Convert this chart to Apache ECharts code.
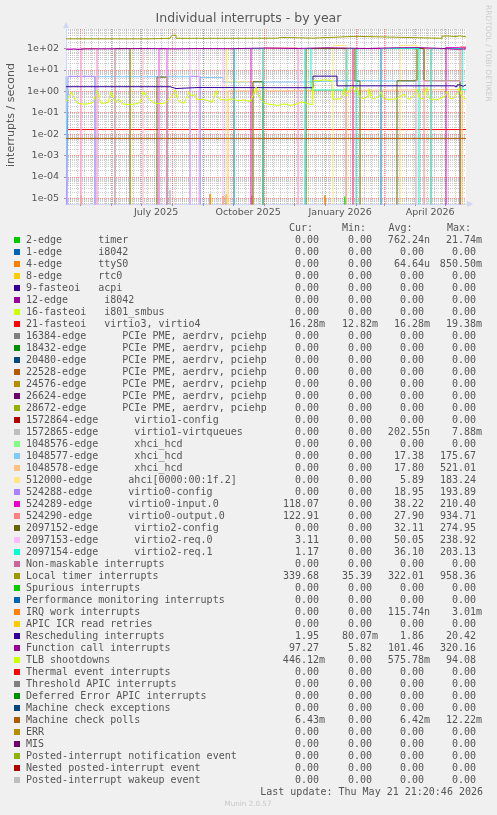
<!DOCTYPE html>
<html><head><meta charset="utf-8">
<script src="https://cdn.jsdelivr.net/npm/echarts@6/dist/echarts.min.js"></script>
<style>html,body{margin:0;padding:0;background:#F0F0F0}#c{width:497px;height:815px}</style>
</head><body><div id="c"></div>
<script>
// ---- time frame (last update Thu May 21 21:20:46 2026, 400 days shown) ----
const START = Date.UTC(2025, 3, 16, 21, 20, 46);
const END = Date.UTC(2026, 4, 21, 21, 20, 46);
const DAY = 86400000;

// ---- y axis (log) ----
const yMin = 5.42e-6;
const yMax = 815;
const yMajorTicks = [1e-5, 1e-4, 1e-3, 1e-2, 1e-1, 1e0, 1e1, 1e2];
const yMinorTicks = [];
for (let e = -6; e <= 2; e++) for (let m = 2; m <= 9; m++) yMinorTicks.push(m * Math.pow(10, e));

// ---- x axis ticks ----
const monthStarts = ['2025-05-01','2025-06-01','2025-07-01','2025-08-01','2025-09-01','2025-10-01','2025-11-01','2025-12-01','2026-01-01','2026-02-01','2026-03-01','2026-04-01','2026-05-01'];
const labelDates = ['2025-07-16','2025-10-16','2026-01-16','2026-04-16'];
const monthNames = ['January','February','March','April','May','June','July','August','September','October','November','December'];

// ---- legend ----
const legendNames = [
 '2-edge      timer','1-edge      i8042','4-edge      ttyS0','8-edge      rtc0','9-fasteoi   acpi',
 '12-edge      i8042','16-fasteoi   i801_smbus','21-fasteoi   virtio3, virtio4',
 '16384-edge      PCIe PME, aerdrv, pciehp','18432-edge      PCIe PME, aerdrv, pciehp','20480-edge      PCIe PME, aerdrv, pciehp',
 '22528-edge      PCIe PME, aerdrv, pciehp','24576-edge      PCIe PME, aerdrv, pciehp','26624-edge      PCIe PME, aerdrv, pciehp',
 '28672-edge      PCIe PME, aerdrv, pciehp','1572864-edge      virtio1-config','1572865-edge      virtio1-virtqueues',
 '1048576-edge      xhci_hcd','1048577-edge      xhci_hcd','1048578-edge      xhci_hcd','512000-edge      ahci[0000:00:1f.2]',
 '524288-edge      virtio0-config','524289-edge      virtio0-input.0','524290-edge      virtio0-output.0',
 '2097152-edge      virtio2-config','2097153-edge      virtio2-req.0','2097154-edge      virtio2-req.1',
 'Non-maskable interrupts','Local timer interrupts','Spurious interrupts','Performance monitoring interrupts',
 'IRQ work interrupts','APIC ICR read retries','Rescheduling interrupts','Function call interrupts','TLB shootdowns',
 'Thermal event interrupts','Threshold APIC interrupts','Deferred Error APIC interrupts','Machine check exceptions',
 'Machine check polls','ERR','MIS','Posted-interrupt notification event','Nested posted-interrupt event','Posted-interrupt wakeup event'
];
const colors = ['#00CC00','#0066B3','#FF8000','#FFCC00','#330099','#990099','#CCFF00','#FF0000','#808080','#008F00',
 '#00487D','#B35A00','#B38F00','#6B006B','#8FB300','#B30000','#BEBEBE','#80FF80','#80C9FF','#FFC080','#FFE680',
 '#AA80FF','#EE00CC','#FF8080','#666600','#FFBBFF','#00FFCC','#CC6699','#999900',
 '#00CC00','#0066B3','#FF8000','#FFCC00','#330099','#990099','#CCFF00','#FF0000','#808080','#008F00',
 '#00487D','#B35A00','#B38F00','#6B006B','#8FB300','#B30000','#BEBEBE'];
const curVals = ['0.00','0.00','0.00','0.00','0.00','0.00','0.00','16.28m','0.00','0.00','0.00','0.00','0.00','0.00','0.00','0.00','0.00','0.00','0.00','0.00','0.00','0.00','118.07','122.91','0.00','3.11','1.17','0.00','339.68','0.00','0.00','0.00','0.00','1.95','97.27','446.12m','0.00','0.00','0.00','0.00','6.43m','0.00','0.00','0.00','0.00','0.00'];
const minVals = ['0.00','0.00','0.00','0.00','0.00','0.00','0.00','12.82m','0.00','0.00','0.00','0.00','0.00','0.00','0.00','0.00','0.00','0.00','0.00','0.00','0.00','0.00','0.00','0.00','0.00','0.00','0.00','0.00','35.39','0.00','0.00','0.00','0.00','80.07m','5.82','0.00','0.00','0.00','0.00','0.00','0.00','0.00','0.00','0.00','0.00','0.00'];
const avgVals = ['762.24n','0.00','64.64u','0.00','0.00','0.00','0.00','16.28m','0.00','0.00','0.00','0.00','0.00','0.00','0.00','0.00','202.55n','0.00','17.38','17.80','5.89','18.95','38.22','27.90','32.11','50.05','36.10','0.00','322.01','0.00','0.00','115.74n','0.00','1.86','101.46','575.78m','0.00','0.00','0.00','0.00','6.42m','0.00','0.00','0.00','0.00','0.00'];
const maxVals = ['21.74m','0.00','850.50m','0.00','0.00','0.00','0.00','19.38m','0.00','0.00','0.00','0.00','0.00','0.00','0.00','0.00','7.88m','0.00','175.67','521.01','183.24','193.89','210.40','934.71','274.95','238.92','203.13','0.00','958.36','0.00','0.00','3.01m','0.00','20.42','320.16','94.08','0.00','0.00','0.00','0.00','12.22m','0.00','0.00','0.00','0.00','0.00'];

// ---- series values: [day since 2025-04-16, interrupts/s]; each value holds until next point ----
const ZERO = [[0, 0], [400, 0]];
const sTimer = [[0,0],[279,1.2e-5],[280,0],[400,0]];
const sTtyS0 = [[0,0],[15,1.4e-5],[16,0],[144,1.6e-5],[145,0],[157,1.3e-5],[158,0],[160,1.5e-5],[161,0],[186,1.3e-5],[187,0],[400,0]];
const sVirtio34 = [[0,0.0163],[400,0.0163]];
const sVirtio1q = [[0,0],[104,2.4e-5],[105,0],[400,0]];
const sXhci77 = [[0,5.0],[2,0],[29,4.8],[124,0],[134,4.4],[157,2.7],[239,3.2],[280,3.0],[350,0],[400,0]];
const sXhci78 = [[0,0],[162,1.05],[204,1.1],[270,1.2],[396,0],[400,0]];
const sAhci = [[0,0],[64,100],[77,0],[160,100],[162,2.8],[187,0],[267,140],[280,0],[334,140],[351,0],[400,0]];
const sV0config = [[0,0],[2,5.0],[29,0],[124,5.0],[134,0],[400,0]];
const sV0input = [[0,0],[93,100],[101,0],[168,100],[185,0],[287,100],[315,0],[380,110],[400,118]];
const sV0output = [[0,0],[15,100],[31,0],[197,105],[232,0],[280,100],[287,0],[358,100],[365,0],[394,120],[400,123]];
const sV2config = [[0,0],[49,100],[64,0],[91,4.6],[101,0],[187,2.8],[197,0],[240,100],[289,3.0],[294,0],[331,3.1],[351,100],[358,3.1],[394,0],[400,0]];
const sV2req0 = [[0,100],[15,0],[31,100],[49,0],[77,100],[93,0],[101,100],[124,0],[133,100],[157,0],[232,100],[239,0],[350,3.0],[400,3.11]];
const sV2req1 = [[0,0],[168,100],[197,0],[239,100],[245,1.15],[281,100],[290,0],[315,100],[353,0],[365,100],[396,1.17],[400,1.17]];
const sLocalTimer = [[0,283],[84,300],[104,330],[106,420],[107,470],[108,420],[110,300],[156,305],[212,330],[215,305],[247,370],[290,300],[376,380],[384,360],[389,390],[394,350],[400,340]];
const sIrqWork = [[0,0],[259,1.4e-5],[260,0],[400,0]];
const sResched = [[0,1.64],[46,1.5],[48,1.64],[104,1.4],[106,1.35],[110,1.5],[132,1.47],[247,5.1],[271,1.8],[388,1.6],[391,2.0],[394,1.7],[397,2.0],[400,1.95]];
const sFuncCall = [[0,92],[5,95],[8,90],[12,96],[20,97],[45,100],[80,96],[110,100],[130,98],[165,105],[200,100],[230,108],[262,100],[300,108],[330,110],[352,100],[378,95],[385,92],[392,96],[400,97]];
// TLB shootdowns: sampled points, joined by straight lines
const sTlb = [[0,0.33],[3,0.6],[5,0.95],[8,0.5],[11,0.28],[14,0.26],[20,0.25],[27,0.3],[31,1.1],[33,0.5],[35,0.27],[42,0.3],[45,0.95],[47,0.5],[50,0.3],[53,0.45],[56,0.26],[62,0.24],[68,0.25],[74,0.3],[77,1.0],[80,0.6],[84,0.38],[88,0.28],[95,0.26],[100,0.3],[107,0.75],[109,1.15],[111,0.5],[113,0.33],[118,0.28],[123,0.95],[125,0.6],[129,0.7],[131,0.4],[136,0.43],[141,0.38],[146,0.3],[150,1.1],[152,0.5],[155,0.42],[160,0.38],[166,0.45],[172,0.35],[177,0.4],[184,0.33],[188,0.8],[190,1.6],[192,0.7],[195,0.39],[199,0.27],[205,0.24],[212,0.22],[218,0.26],[224,0.22],[230,0.25],[235,0.32],[240,0.28],[246,0.23],[247,3.3],[252,3.1],[258,3.4],[265,3.2],[266,3.2],[267,0.42],[275,0.45],[278,1.4],[280,0.6],[284,1.3],[286,1.7],[289,0.9],[291,1.5],[293,0.6],[297,0.45],[302,0.6],[303,1.35],[305,0.5],[308,0.43],[313,0.6],[315,0.95],[317,0.5],[320,0.42],[330,0.44],[338,0.75],[340,0.5],[344,0.42],[350,0.9],[351,1.2],[353,0.5],[357,0.43],[359,1.0],[360,1.5],[362,0.6],[364,0.43],[372,0.42],[379,0.6],[381,1.0],[383,0.5],[386,0.43],[391,0.8],[393,1.4],[395,0.7],[398,0.45],[400,0.45]];
const sMcPolls = [[0,0.0063],[400,0.0063]];

const seriesData = [sTimer, ZERO, sTtyS0, ZERO, ZERO, ZERO, ZERO, sVirtio34, ZERO, ZERO, ZERO, ZERO, ZERO, ZERO, ZERO, ZERO,
 sVirtio1q, ZERO, sXhci77, sXhci78, sAhci, sV0config, sV0input, sV0output, sV2config, sV2req0, sV2req1, ZERO, sLocalTimer,
 ZERO, ZERO, sIrqWork, ZERO, sResched, sFuncCall, sTlb, ZERO, ZERO, ZERO, ZERO, sMcPolls, ZERO, ZERO, ZERO, ZERO, ZERO];

// ---- build ----
const TXT = '#555555';
const AXISC = '#CFD6F8';
const dateTs = s => Date.UTC(+s.slice(0,4), +s.slice(5,7) - 1, +s.slice(8,10));
const weekly = [];
for (let t = Date.UTC(2025, 3, 21); t < END; t += 7 * DAY) weekly.push(t);

const series = seriesData.map((arr, i) => ({
  type: 'line', name: legendNames[i], step: arr === sTlb ? false : 'end', showSymbol: false, symbol: 'none',
  clip: true, silent: true, animation: false,
  lineStyle: { width: 1, color: colors[i] }, itemStyle: { color: colors[i] },
  data: arr.map(([d, v]) => [START + d * DAY, v > 0 ? v : 1e-9])
}));

const graphic = [];
graphic.push({ type: 'text', x: 248.5, y: 19, style: { text: 'Individual interrupts - by year', fontFamily: 'DejaVu Sans', fontSize: 12.5, fill: TXT, align: 'center', verticalAlign: 'middle' } });
graphic.push({ type: 'text', x: 487.5, y: 5, rotation: -Math.PI / 2, style: { text: 'RRDTOOL / TOBI OETIKER', fontFamily: 'DejaVu Sans', fontSize: 7.5, fill: '#CCCCCC', align: 'left', verticalAlign: 'middle' } });
graphic.push({ type: 'text', x: 11, y: 115, rotation: Math.PI / 2, style: { text: 'interrupts / second', fontFamily: 'DejaVu Sans', fontSize: 11, fill: TXT, align: 'center', verticalAlign: 'middle' } });
const MONO = 'DejaVu Sans Mono';
const headers = [['Cur:', 289], ['Min:', 342], ['Avg:', 388.5], ['Max:', 447]];
headers.forEach(([t, x]) => graphic.push({ type: 'text', x, y: 228, style: { text: t, fontFamily: MONO, fontSize: 10, fill: TXT, align: 'left', verticalAlign: 'middle' } }));
const colRight = [319, 372, 424, 476];
const cols = [curVals, minVals, avgVals, maxVals];
legendNames.forEach((name, i) => {
  const yc = 240 + 12 * i;
  graphic.push({ type: 'rect', shape: { x: 14, y: yc - 3, width: 6, height: 6 }, style: { fill: colors[i] } });
  graphic.push({ type: 'text', x: 26, y: yc, style: { text: name, fontFamily: MONO, fontSize: 10, fill: TXT, align: 'left', verticalAlign: 'middle' } });
  cols.forEach((col, c) => {
    const s = col[i];
    const suf = /[a-zA-Z]$/.test(s);
    graphic.push({ type: 'text', x: colRight[c] + (suf ? 6 : 0), y: yc, style: { text: s, fontFamily: MONO, fontSize: 10, fill: TXT, align: 'right', verticalAlign: 'middle' } });
  });
});
graphic.push({ type: 'text', x: 483, y: 792, style: { text: 'Last update: Thu May 21 21:20:46 2026', fontFamily: MONO, fontSize: 10, fill: TXT, align: 'right', verticalAlign: 'middle' } });
graphic.push({ type: 'text', x: 248, y: 804, style: { text: 'Munin 2.0.57', fontFamily: 'DejaVu Sans', fontSize: 7.2, fill: '#C8C8C8', align: 'center', verticalAlign: 'middle' } });

const fmtExp = v => { const e = Math.round(Math.log10(v)); return '1e' + (e >= 0 ? '+' : '-') + String(Math.abs(e)).padStart(2, '0'); };

const option = {
  backgroundColor: '#F0F0F0',
  animation: false,
  grid: { left: 66, top: 29, width: 400, height: 175, show: true, backgroundColor: '#FFFFFF', borderWidth: 0 },
  xAxis: [
    { type: 'value', min: START, max: END, position: 'bottom',
      axisLine: { show: true, lineStyle: { color: AXISC, width: 1 }, symbol: ['none', 'triangle'], symbolSize: [6, 6], symbolOffset: [0, 4] },
      axisTick: { show: true, length: 2, lineStyle: { color: '#999' }, customValues: monthStarts.map(dateTs) },
      axisLabel: { show: true, customValues: labelDates.map(dateTs), fontFamily: 'DejaVu Sans', fontSize: 9.5, color: TXT, margin: 4,
        formatter: v => { const d = new Date(v); return monthNames[d.getUTCMonth()] + ' ' + d.getUTCFullYear(); } },
      splitLine: { show: true, lineStyle: { color: 'rgba(222,79,79,0.6)', width: 1, type: [1, 1] } } },
    { type: 'value', min: START, max: END, position: 'bottom',
      axisLine: { show: false }, axisLabel: { show: false },
      axisTick: { show: false, customValues: weekly },
      splitLine: { show: true, lineStyle: { color: 'rgba(143,143,143,0.45)', width: 1, type: [1, 1] } } }
  ],
  yAxis: [
    { type: 'log', logBase: 10, min: yMin, max: yMax,
      axisLine: { show: true, lineStyle: { color: AXISC, width: 1 }, symbol: ['none', 'triangle'], symbolSize: [6, 6], symbolOffset: [0, 4] },
      axisTick: { show: true, length: 2, lineStyle: { color: '#999' }, customValues: yMajorTicks },
      axisLabel: { show: true, customValues: yMajorTicks, formatter: fmtExp, fontFamily: 'DejaVu Sans', fontSize: 9.5, color: TXT, margin: 7 },
      splitLine: { show: true, lineStyle: { color: 'rgba(222,79,79,0.6)', width: 1, type: [1, 1] } } },
    { type: 'log', logBase: 10, min: yMin, max: yMax,
      axisLine: { show: false }, axisLabel: { show: false },
      axisTick: { show: false, customValues: yMinorTicks },
      splitLine: { show: true, lineStyle: { color: 'rgba(143,143,143,0.45)', width: 1, type: [1, 1] } } }
  ],
  series,
  graphic
};
const chart = echarts.init(document.getElementById('c'), null, { renderer: 'canvas' });
chart.setOption(option);
</script></body></html>
